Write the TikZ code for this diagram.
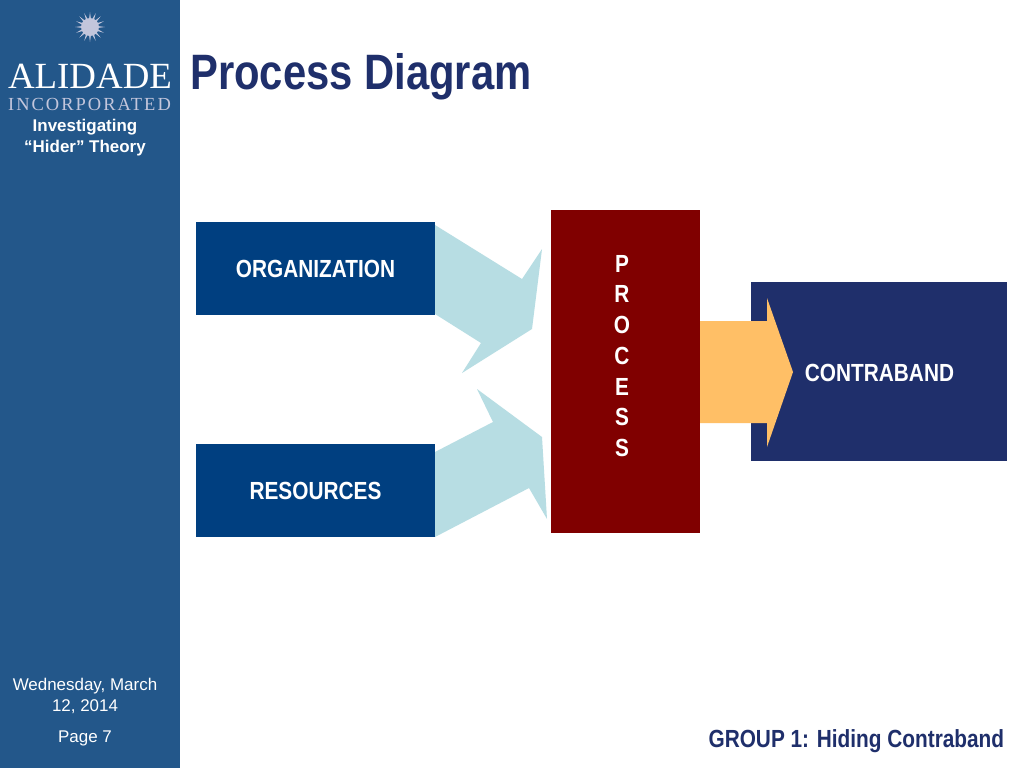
\documentclass[tikz,border=0pt]{standalone}
\usepackage{fontspec}
\setmainfont{Liberation Sans}
\newfontfamily\logofont{Liberation Serif}
\newfontfamily\logospaced[LetterSpace=11]{Liberation Serif}
\newfontfamily\narrowfont[FakeStretch=0.84]{Liberation Sans}
\usetikzlibrary{positioning}
\definecolor{sidebar}{HTML}{23578A}
\definecolor{boxblue}{HTML}{003F80}
\definecolor{navy}{HTML}{1F2F6B}
\definecolor{maroon}{HTML}{800000}
\definecolor{paleblue}{HTML}{B7DDE3}
\definecolor{amber}{HTML}{FFBF66}
\definecolor{starlilac}{HTML}{C3C6DC}
\tikzset{
    blockbox/.style={fill=boxblue,text=white,minimum width=4.78cm,minimum height=1.86cm,inner sep=0pt,text height=10.3pt,text depth=0pt,font=\narrowfont\bfseries\fontsize{14.1}{16}\selectfont},
    sidetext/.style={text=white,align=center,inner sep=0pt,font=\fontsize{9.65}{11.9}\selectfont},
}
\begin{document}
\begin{tikzpicture}[x=0.02cm,y=-0.02cm]
    \useasboundingbox (0,0) rectangle (1024,768);
    \fill[white] (0,0) rectangle (1024,768);
    \fill[sidebar] (0,0) rectangle (180,768);
    % logo
    \foreach \a in {0,22.5,...,337.5} {
        \fill[starlilac,shift={(90,27)}] (\a-9:7) -- (\a:15) -- (\a+9:7) -- cycle;
    }
    \fill[starlilac] (90,27) circle (9);
    \node[text=white,inner sep=0pt,font=\logofont\fontsize{21}{24}\selectfont] (logotop) at (90,76) {ALIDADE};
    \node[text=starlilac,inner sep=0pt,font=\logospaced\fontsize{10.5}{13}\selectfont] (logobottom) at (89.5,104) {INCORPORATED};
    \node[sidetext,font=\bfseries\fontsize{9.65}{11.9}\selectfont] (subtitle) at (85,138) {Investigating\\“Hider” Theory};
    \node[sidetext] (datelbl) at (85,696) {Wednesday, March\\12, 2014};
    \node[sidetext] (pagelbl) at (85,738) {Page 7};
    % title and footer
    \node[anchor=west,inner sep=0pt,text=navy,font=\narrowfont\bfseries\fontsize{28.3}{30}\selectfont] (title) at (190,77) {Process Diagram};
    \node[anchor=east,inner sep=0pt,text=navy,font=\narrowfont\bfseries\fontsize{14.1}{16}\selectfont] (footer) at (1004.5,741) {GROUP 1: Hiding Contraband};
    % arrows
    \fill[paleblue] (435,225) -- (522,279) -- (542,249) -- (532,329) -- (462,373) -- (481,343) -- (435,314) -- cycle;
    \fill[paleblue] (435,452) -- (493,422) -- (477,389) -- (542,437) -- (547,519) -- (529,488) -- (435,537) -- cycle;
    % boxes
    \node[blockbox] (org) at (315.5,268.5) {ORGANIZATION};
    \node[blockbox] (res) at (315.5,490.5) {RESOURCES};
    \node[fill=maroon,minimum width=2.98cm,minimum height=6.46cm,inner sep=0pt] (proc) at (625.5,371.5) {};
    \node[text=white,align=center,inner sep=0pt,font=\narrowfont\bfseries\fontsize{14.1}{17.5}\selectfont] (proclbl) at (622,356) {P\\R\\O\\C\\E\\S\\S};
    \node[fill=navy,minimum width=5.12cm,minimum height=3.58cm,inner sep=0pt] (contra) at (879,371.5) {};
    \fill[amber] (700,321) -- (767,321) -- (767,298) -- (793,372) -- (767,447) -- (767,423) -- (700,423) -- cycle;
    \node[text=white,inner sep=0pt,font=\narrowfont\bfseries\fontsize{14.1}{16}\selectfont] (contralbl) at (879.5,373) {CONTRABAND};
\end{tikzpicture}
\end{document}
